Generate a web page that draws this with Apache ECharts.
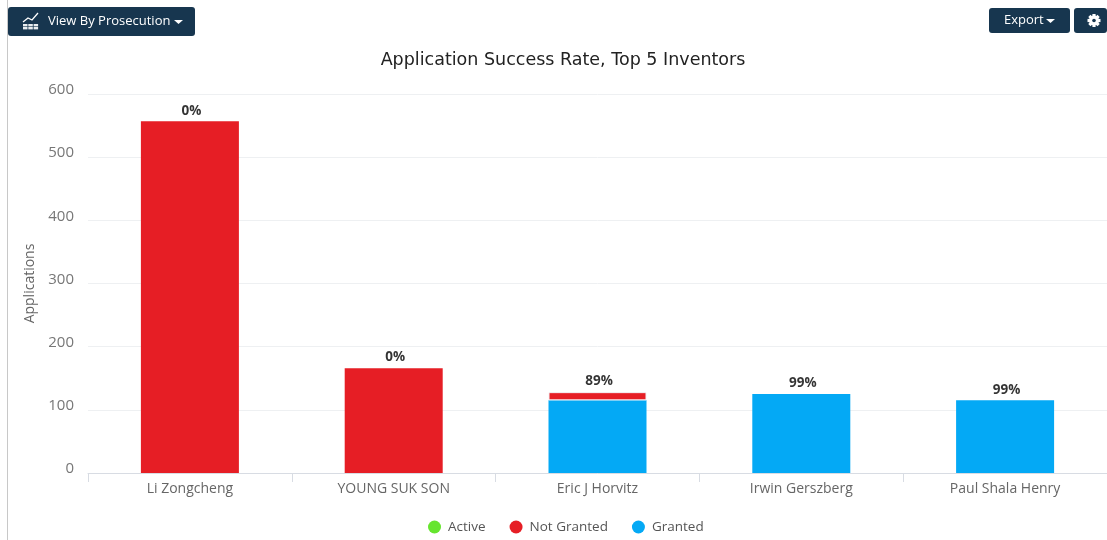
<!DOCTYPE html>
<html><head><meta charset="utf-8">
<style>html,body{margin:0;padding:0;background:#fff}#c{width:1107px;height:540px}</style>
<script src="https://cdn.jsdelivr.net/npm/echarts@6/dist/echarts.min.js"></script>
</head><body><div id="c"></div>
<script>
const categories = ['Li Zongcheng','YOUNG SUK SON','Eric J Horvitz','Irwin Gerszberg','Paul Shala Henry'];
const active = [0,0,0,0,0];
const notGranted = [557,166,13,0,0];
const granted = [0,0,115,125,115];
const rateLabels = ['0%','0%','89%','99%','99%'];
const totals = [557,166,128,125,115];
const yTicks = [0,100,200,300,400,500,600];
const FONT = '"Open Sans", sans-serif';
const NAVY = '#17364f';
const chart = echarts.init(document.getElementById('c'), null, {renderer:'canvas'});
function button(x,y,w,h,text,tx,fs){
  return [
    {type:'rect',shape:{x,y,width:w,height:h,r:3},style:{fill:NAVY},silent:true},
    {type:'text',x:tx,y:y+h/2,style:{text,fill:'#fff',font:fs+'px '+FONT,verticalAlign:'middle',align:'left'},silent:true}
  ];
}
function caret(x,y){return {type:'polygon',shape:{points:[[x,y],[x+9,y],[x+4.5,y+4]]},style:{fill:'#fff'},silent:true};}
const cells = [];
for (let r=0;r<2;r++) for (let c=0;c<3;c++)
  cells.push({type:'rect',shape:{x:23+c*5.3,y:24+r*3,width:4.5,height:2.4},style:{fill:'#e8edf0'},silent:true});
const gear = [];
for (let k=0;k<4;k++)
  gear.push({type:'rect',x:1094,y:20.5,rotation:k*Math.PI/4,shape:{x:-1.6,y:-6.5,width:3.2,height:13},style:{fill:'#fff'},silent:true});
chart.setOption({
  animation:false,
  backgroundColor:'#fff',
  title:{text:'Application Success Rate, Top 5 Inventors',left:558,top:46,textAlign:'center',
    textStyle:{fontFamily:'"DejaVu Sans", sans-serif',fontSize:17.5,fontWeight:'normal',color:'#222'}},
  legend:{data:['Active','Not Granted','Granted'],left:423,top:515,icon:'circle',itemWidth:13,itemHeight:13,itemGap:24,
    textStyle:{fontFamily:FONT,fontSize:13.5,color:'#555',padding:[0,0,0,2]},selectedMode:false},
  grid:{left:88,right:-1,top:94,bottom:67,containLabel:false},
  xAxis:{type:'category',data:categories,axisTick:{show:true,length:9,lineStyle:{color:'#d8dce3'}},
    axisLine:{lineStyle:{color:'#d8dce3',width:1}},
    axisLabel:{fontFamily:FONT,fontSize:14,color:'#666',margin:9}},
  yAxis:{type:'value',min:0,max:600,interval:100,name:'Applications',nameLocation:'middle',nameRotate:90,nameGap:51,
    nameTextStyle:{fontFamily:FONT,fontSize:14,color:'#666'},
    axisLine:{show:false},axisTick:{show:false},
    axisLabel:{fontFamily:FONT,fontSize:15,color:'#777',margin:14,lineHeight:8,
      customValues:yTicks,verticalAlign:'bottom'},
    splitLine:{lineStyle:{color:'#eef0f2',width:1}}},
  series:[
    {name:'Active',type:'bar',stack:'a',barWidth:98,data:active,itemStyle:{color:'#66e52e'}},
    {name:'Granted',type:'bar',stack:'a',barWidth:98,data:granted,itemStyle:{color:'#04a9f5'}},
    {name:'Not Granted',type:'bar',stack:'a',barWidth:98,itemStyle:{color:'#e61e25'},
      data:notGranted.map((v,i)=>granted[i]>0&&v>0?{value:v,itemStyle:{borderColor:'#f4f0f4',borderWidth:1}}:v)},
    {name:'Rate',type:'scatter',data:totals,symbolSize:0,silent:true,z:5,
      label:{show:true,position:'top',distance:3.5,offset:[1.5,0],fontFamily:FONT,fontSize:13.5,fontWeight:'bold',color:'#000',
        formatter:p=>rateLabels[p.dataIndex]}}
  ],
  graphic:[
    {type:'line',shape:{x1:7.5,y1:0,x2:7.5,y2:540},style:{stroke:'#c8c8c8',lineWidth:1},silent:true},
    ...button(8,7,187,29,'View By Prosecution',48,13),
    caret(174,20),
    {type:'polyline',shape:{points:[[23,22],[28,18],[32,20],[38,13]]},style:{stroke:'#fff',lineWidth:1.3,fill:null},silent:true},
    ...cells,
    ...button(989,8,81,25,'Export',1004,13),
    caret(1046,19),
    {type:'rect',shape:{x:1074,y:8,width:33,height:25,r:3},style:{fill:NAVY},silent:true},
    {type:'circle',shape:{cx:1094,cy:20.5,r:5},style:{fill:'#fff'},silent:true},
    ...gear,
    {type:'circle',shape:{cx:1094,cy:20.5,r:1.8},style:{fill:NAVY},silent:true}
  ]
});
</script></body></html>
